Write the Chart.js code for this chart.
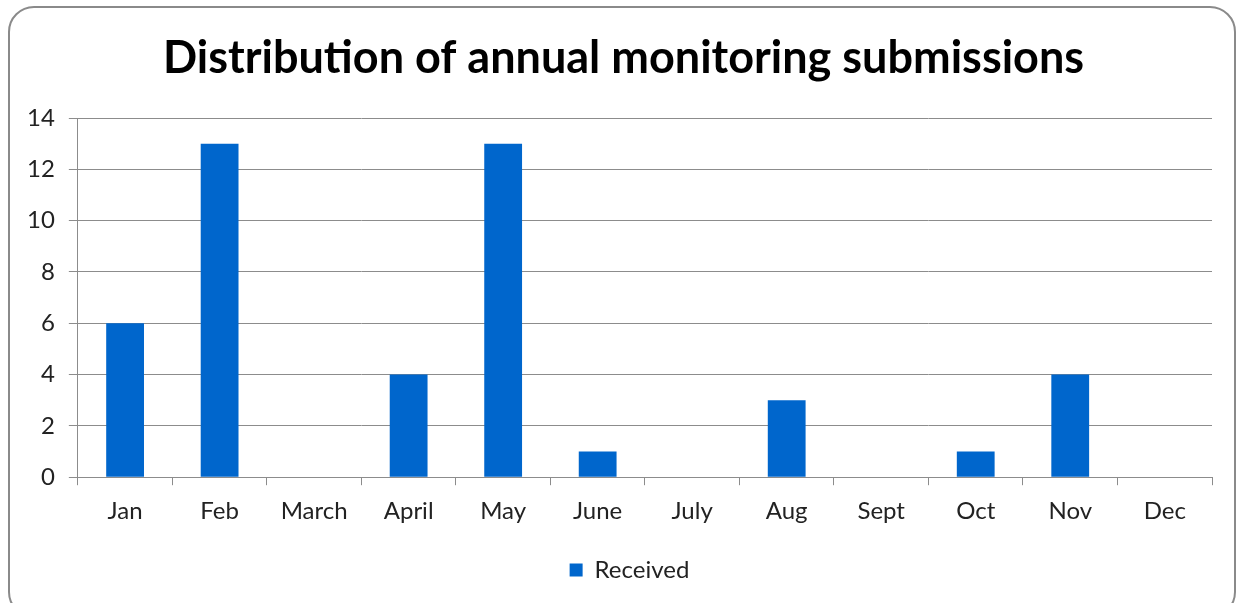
<!DOCTYPE html>
<html lang="en">
<head>
  <meta charset="UTF-8">
  <title>Distribution of annual monitoring submissions</title>
  <script src="https://cdn.jsdelivr.net/npm/chart.js"></script>
  <style>
    html, body { margin: 0; padding: 0; background: #fff; overflow: hidden; }
    .marco {
      position: absolute; left: 8px; top: 6px; width: 1224px; height: 608px;
      border: 2px solid #8a8a8a; border-radius: 26px;
    }
    .lienzo { position: absolute; left: 0; top: 0; width: 1238px; height: 603px; }
  </style>
</head>
<body>
  <div class="marco"></div>
  <div class="lienzo"><canvas id="grafico"></canvas></div>

  <script>
    const meses = ['Jan', 'Feb', 'March', 'April', 'May', 'June', 'July', 'Aug', 'Sept', 'Oct', 'Nov', 'Dec'];
    const recibidos = [6, 13, 0, 4, 13, 1, 0, 3, 0, 1, 4, 0];
    const ticksY = [0, 2, 4, 6, 8, 10, 12, 14];

    const fuente = "Lato, 'Open Sans', sans-serif";
    const gris = '#8c8c8c';

    // en el original el título y la leyenda quedan algo a la derecha del centro
    const desplazar = {
      id: 'desplazar',
      afterLayout(chart) {
        chart.legend.left += 17;
        chart.legend.right += 17;
        chart.titleBlock.left += 11;
        chart.titleBlock.right += 11;
      }
    };

    const ctx = document.getElementById('grafico').getContext('2d');

    new Chart(ctx, {
      type: 'bar',
      data: {
        labels: meses,
        datasets: [{
          label: 'Received',
          data: recibidos,
          backgroundColor: '#0066cc',
          borderWidth: 0,
          barPercentage: 0.4,
          categoryPercentage: 1
        }]
      },
      options: {
        responsive: true,
        maintainAspectRatio: false,
        animation: false,
        layout: { padding: { left: 13, right: 26, top: 10, bottom: 11 } },
        scales: {
          x: {
            grid: { display: true, drawOnChartArea: false, color: gris, tickLength: 8, offset: true },
            border: { color: gris, width: 1 },
            ticks: { color: '#222', font: { family: fuente, size: 24 }, padding: 12, maxRotation: 0 }
          },
          y: {
            min: 0,
            max: 14,
            afterBuildTicks: (eje) => { eje.ticks = ticksY.map(v => ({ value: v })); },
            grid: { color: gris, tickLength: 9 },
            border: { color: gris, width: 1 },
            ticks: { color: '#222', font: { family: fuente, size: 24 }, padding: 14 }
          }
        },
        plugins: {
          title: {
            display: true,
            text: 'Distribution of annual monitoring submissions',
            color: '#000',
            font: { family: fuente, size: 45, weight: 'bold' },
            padding: { top: 21, bottom: 33 }
          },
          legend: {
            position: 'bottom',
            labels: {
              color: '#222',
              font: { family: fuente, size: 24 },
              boxWidth: 13,
              boxHeight: 13,
              padding: 20
            }
          },
          tooltip: { enabled: false }
        }
      },
      plugins: [desplazar]
    });
  </script>
</body>
</html>
